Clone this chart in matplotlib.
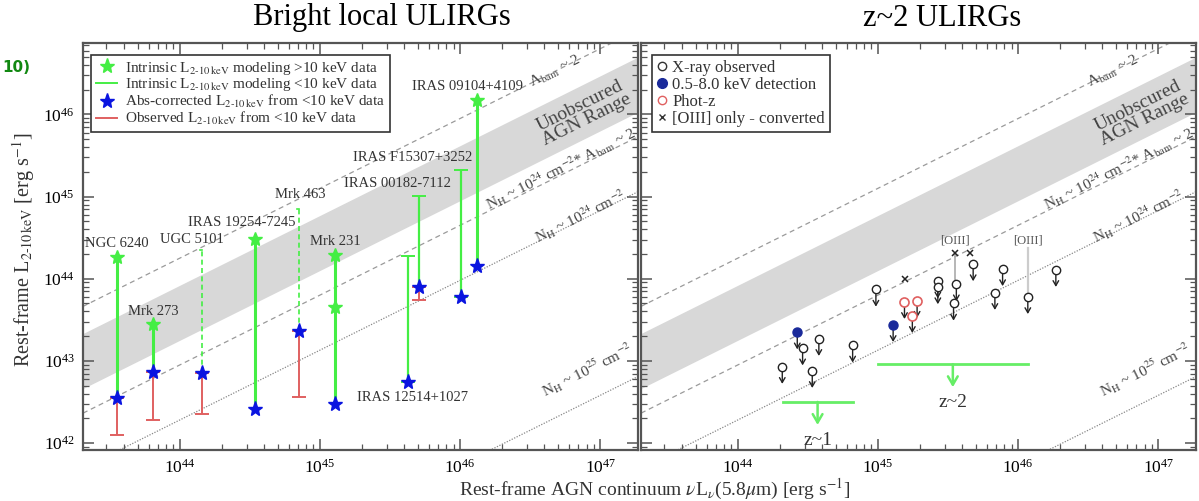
import numpy as np
import matplotlib
matplotlib.use('Agg')
import matplotlib.pyplot as plt
from matplotlib.lines import Line2D

plt.rcParams['font.family'] = ['Liberation Serif', 'DejaVu Serif']
plt.rcParams['mathtext.fontset'] = 'stix'

# ---- left panel: bright local ULIRGs (log10 erg/s) ----
names = ['NGC 6240', 'Mrk 273', 'UGC 5101', 'IRAS 19254-7245', 'Mrk 463', 'Mrk 231',
         'IRAS 12514+1027', 'IRAS 00182-7112', 'IRAS F15307+3252', 'IRAS 09104+4109']
lir = [43.55, 43.81, 44.16, 44.54, 44.85, 45.11, 45.63, 45.71, 46.01, 46.12]
top = [44.26, 43.45, 44.35, 44.48, 44.85, 44.29, 44.28, 45.01, 45.32, 46.17]
top_kind = ['star', 'star', 'dashed', 'star', 'dashed', 'star', 'cap', 'cap', 'cap', 'star']
abs_corr = [42.545, 42.86, 42.85, 42.41, 43.36, 42.48, 42.74, 43.90, 43.78, 44.15]
observed = [42.10, 42.28, 42.35, np.nan, 42.56, np.nan, np.nan, 43.74, np.nan, np.nan]
mrk231_second = 43.65
# label centres (log x, log y)
lab_x = [43.55, 43.81, 44.09, 44.44, 44.86, 45.11, 45.66, 45.55, 45.66, 46.05]
lab_y = [44.43, 43.60, 44.48, 44.68, 45.02, 44.45, 42.56, 45.16, 45.48, 46.34]

# ---- right panel: z~2 ULIRGs (upper limits) ----
xray_x = [44.318, 44.463, 44.579, 44.532, 44.82, 44.986, 45.428, 45.428, 45.56, 45.54,
          45.68, 45.89, 45.835, 46.07, 46.27]
xray_y = [42.93, 43.155, 43.27, 42.88, 43.19, 43.87, 43.97, 43.90, 43.935, 43.70,
          44.18, 44.12, 43.83, 43.78, 44.11]
det_x = [44.425, 45.109]
det_y = [43.35, 43.44]
photz_x = [45.19, 45.28, 45.246]
photz_y = [43.72, 43.735, 43.55]
oiii_x = [45.196, 45.55, 45.66]
oiii_y = [44.0, 44.31, 44.31]
z1_x = [44.32, 44.82]
z1_y = 42.50
z2_x = [45.0, 46.07]
z2_y = 42.96

# reference relations: log Lx = off + slope * (log L - 44)
slope = 0.85
abam_off = 44.25
band_lo, band_hi = 43.25, 43.92
nh24a_off = 42.95
nh24_off = 42.28
nh25_off = 40.03

xlo, xhi = 43.31, 47.27
ylo, yhi = 41.915, 46.87

GREEN = '#44ee44'
BLUE = '#0a14e0'
RED = '#e06060'
GRAY = '#555555'

fig = plt.figure(figsize=(11.99, 5.01), dpi=100)
ax1 = fig.add_axes([83/1199, 1-450/501, 555/1199, 407/501])
ax2 = fig.add_axes([641/1199, 1-450/501, 555/1199, 407/501])


def rel(off, lx):
    return 10**(off + slope*(np.asarray(lx) - 44))


def setup(ax):
    ax.set_xscale('log')
    ax.set_yscale('log')
    ax.set_xlim(10**xlo, 10**xhi)
    ax.set_ylim(10**ylo, 10**yhi)
    xs = np.linspace(xlo, xhi, 50)
    ax.fill_between(10**xs, rel(band_lo, xs), rel(band_hi, xs), color='#d8d8d8', lw=0, zorder=0)
    ax.plot(10**xs, rel(abam_off, xs), ls=(0, (4, 3)), color='#9a9a9a', lw=0.9, zorder=1)
    ax.plot(10**xs, rel(nh24a_off, xs), ls=(0, (4, 3)), color='#9a9a9a', lw=0.9, zorder=1)
    ax.plot(10**xs, rel(nh24_off, xs), ls=(0, (1, 1.2)), color='#888888', lw=0.9, zorder=1)
    ax.plot(10**xs, rel(nh25_off, xs), ls=(0, (1, 1.2)), color='#888888', lw=0.9, zorder=1)
    p1 = ax.transData.transform((1e44, rel(0, 44)))
    p2 = ax.transData.transform((1e46, rel(0, 46)))
    ang = np.degrees(np.arctan2(p2[1]-p1[1], p2[0]-p1[0]))
    tk = dict(rotation=ang, rotation_mode='anchor', ha='center', va='center', color='#444444')
    ax.text(10**46.68, 10**46.52, r'A$_{\rm bam}$ ~ 2', fontsize=11, **tk)
    ax.text(10**46.88, 10**46.02, 'Unobscured\nAGN Range', fontsize=14, linespacing=0.95, **tk)
    ax.text(10**46.72, 10**45.34, r'N$_{\rm H}$ ~ 10$^{24}$ cm$^{-2}$* A$_{\rm bam}$ ~ 2', fontsize=11, **tk)
    ax.text(10**46.86, 10**44.76, r'N$_{\rm H}$ ~ 10$^{24}$ cm$^{-2}$', fontsize=11, **tk)
    ax.text(10**46.91, 10**42.89, r'N$_{\rm H}$ ~ 10$^{25}$ cm$^{-2}$', fontsize=11, **tk)
    ax.tick_params(which='both', direction='in', top=True, right=True, labelsize=12.5,
                   color=GRAY, pad=6)
    ax.tick_params(which='major', length=8, width=1.1)
    ax.tick_params(which='minor', length=4, width=0.9)
    for s in ax.spines.values():
        s.set_linewidth(1.6)
        s.set_color(GRAY)


fig.canvas.draw()
setup(ax1)
setup(ax2)
ax2.tick_params(axis='y', which='both', labelleft=False)

# left panel marks
for i in range(len(names)):
    x = 10**lir[i]
    if top_kind[i] == 'star':
        ax1.plot([x, x], [10**abs_corr[i], 10**top[i]], color=GREEN, lw=2.2, zorder=3)
        ax1.plot(x, 10**top[i], marker='*', color=GREEN, ms=10, mec=GREEN, zorder=5)
    elif top_kind[i] == 'dashed':
        ax1.plot([x, x], [10**abs_corr[i], 10**top[i]], color=GREEN, lw=1.2, ls=(0, (3, 2)), zorder=3)
        ax1.plot([x*0.97, x], [10**top[i], 10**top[i]], color=GREEN, lw=1.2, zorder=3)
    else:
        ax1.errorbar(x, 10**abs_corr[i], yerr=[[0], [10**top[i] - 10**abs_corr[i]]],
                     fmt='none', ecolor=GREEN, elinewidth=1.6, capsize=5, capthick=1.4, zorder=3)
    if not np.isnan(observed[i]):
        ax1.errorbar(x, 10**abs_corr[i], yerr=[[10**abs_corr[i] - 10**observed[i]], [0]],
                     fmt='none', ecolor=RED, elinewidth=1.4, capsize=5, capthick=1.4, zorder=3)
    ax1.plot(x, 10**abs_corr[i], marker='*', color=BLUE, ms=11, mec=BLUE, zorder=6)
    ax1.text(10**lab_x[i], 10**lab_y[i], names[i], fontsize=10.5, ha='center', va='center',
             color='#333333', zorder=7)
ax1.plot(10**lir[5], 10**mrk231_second, marker='*', color=GREEN, ms=10, zorder=5)

h1 = [Line2D([], [], ls='none', marker='*', color=GREEN, ms=11),
      Line2D([], [], color=GREEN, lw=1.4),
      Line2D([], [], ls='none', marker='*', color=BLUE, ms=11),
      Line2D([], [], color=RED, lw=1.4)]
l1 = [r'Intrinsic L$_{\rm 2\text{-}10\,keV}$ modeling >10 keV data',
      r'Intrinsic L$_{\rm 2\text{-}10\,keV}$ modeling <10 keV data',
      r'Abs-corrected L$_{\rm 2\text{-}10\,keV}$ from <10 keV data',
      r'Observed L$_{\rm 2\text{-}10\,keV}$ from <10 keV data']
leg = ax1.legend(h1, l1, loc='upper left', bbox_to_anchor=(0.015, 0.97), fontsize=11,
                 frameon=True, fancybox=False, edgecolor='#333333', framealpha=1,
                 handlelength=1.4, handletextpad=0.5, labelspacing=-0.02, borderpad=0.3,
                 borderaxespad=0)
leg.get_frame().set_linewidth(1.2)
for t in leg.get_texts():
    t.set_color('#333333')

# right panel marks
ar = dict(arrowstyle='->,head_length=0.35,head_width=0.2', color='#222222', lw=1.0,
          shrinkA=3.5, shrinkB=0)
for xv, yv in zip(xray_x, xray_y):
    ax2.annotate('', xy=(10**xv, 10**(yv-0.21)), xytext=(10**xv, 10**yv), arrowprops=ar, zorder=4)
    ax2.plot(10**xv, 10**yv, 'o', mfc='white', mec='#222222', mew=1.0, ms=6, zorder=5)
for xv, yv in zip(det_x, det_y):
    ax2.annotate('', xy=(10**xv, 10**(yv-0.21)), xytext=(10**xv, 10**yv), arrowprops=ar, zorder=4)
    ax2.plot(10**xv, 10**yv, 'o', mfc='#1a2a9a', mec='#1a2a9a', ms=6.5, zorder=5)
for xv, yv in zip(photz_x, photz_y):
    ax2.annotate('', xy=(10**xv, 10**(yv-0.21)), xytext=(10**xv, 10**yv), arrowprops=ar, zorder=4)
    ax2.plot(10**xv, 10**yv, 'o', mfc='white', mec=RED, mew=1.2, ms=6.5, zorder=5)
ax2.plot([10**oiii_x[1]]*2, [10**44.3, 10**43.95], color='#aaaaaa', lw=1.2, zorder=2)
ax2.plot([10**xray_x[13]]*2, [10**44.37, 10**43.8], color='#cccccc', lw=1.6, zorder=2)
ax2.plot(10**np.array(oiii_x), 10**np.array(oiii_y), 'x', color='#222222', ms=4.5, mew=1.1, zorder=5)
ax2.text(10**45.55, 10**44.46, '[OIII]', fontsize=9, ha='center', va='center', color='#555555')
ax2.text(10**46.07, 10**44.46, '[OIII]', fontsize=9, ha='center', va='center', color='#555555')

gar = dict(arrowstyle='->,head_length=0.6,head_width=0.35', color='#66ee66', lw=1.8, shrinkA=0, shrinkB=0)
for zx, zy, lab in [(z1_x, z1_y, 'z~1'), (z2_x, z2_y, 'z~2')]:
    ax2.plot(10**np.array(zx), [10**zy]*2, color='#66ee66', lw=2, zorder=3)
    xm = 10**np.mean(zx)
    ax2.annotate('', xy=(xm, 10**(zy-0.28)), xytext=(xm, 10**zy), arrowprops=gar, zorder=3)
    ax2.text(xm, 10**(zy-0.47), lab, fontsize=14, ha='center', va='center', color='#333333')

h2 = [Line2D([], [], ls='none', marker='o', mfc='white', mec='#333333', ms=6),
      Line2D([], [], ls='none', marker='o', mfc='#1a2a9a', mec='#1a2a9a', ms=7),
      Line2D([], [], ls='none', marker='o', mfc='white', mec=RED, ms=6),
      Line2D([], [], ls='none', marker='x', color='#333333', ms=5)]
l2 = ['X-ray observed', '0.5-8.0 keV detection', 'Phot-z', '[OIII] only - converted']
leg2 = ax2.legend(h2, l2, loc='upper left', bbox_to_anchor=(0.02, 0.97), fontsize=12,
                  frameon=True, fancybox=False, edgecolor='#333333', framealpha=1,
                  handlelength=0.6, handletextpad=0.3, labelspacing=0.05, borderpad=0.3,
                  borderaxespad=0)
leg2.get_frame().set_linewidth(1.2)
for t in leg2.get_texts():
    t.set_color('#333333')

# titles and axis labels
fig.text(382/1199, 1-18/501, 'Bright local ULIRGs', fontsize=22, ha='center', va='center')
fig.text(942/1199, 1-18/501, 'z~2 ULIRGs', fontsize=22, ha='center', va='center')
fig.text(655/1199, 1-489/501, r'Rest-frame AGN continuum $\nu$L$_\nu$(5.8$\mu$m) [erg s$^{-1}$]',
         fontsize=14, ha='center', va='center', color='#333333')
fig.text(24/1199, 1-250/501, r'Rest-frame L$_{\rm 2\text{-}10\,keV}$ [erg s$^{-1}$]',
         fontsize=14.5, ha='center', va='center', rotation=90, color='#333333')
fig.text(2/1199, 1-68/501, '10)', fontsize=11, fontweight='bold', color='#118811',
         family='DejaVu Sans', ha='left', va='center')

fig.savefig('out.png', dpi=100)
